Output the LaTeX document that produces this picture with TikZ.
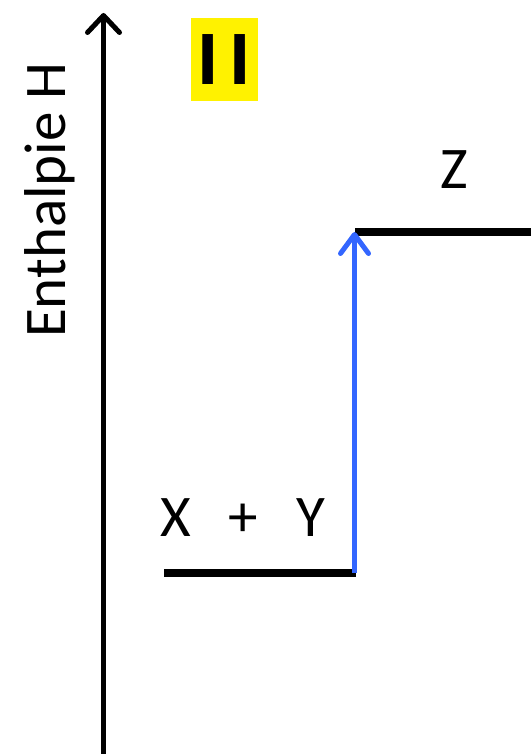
\documentclass[tikz,border=0pt]{standalone}
\usepackage{fontspec}
\setmainfont{Carlito}
\newfontfamily\badgefont{Open Sans}
\usetikzlibrary{arrows.meta}
\definecolor{arrowblue}{RGB}{51,102,255}
\tikzset{
  level/.style={line width=8pt},
  axisline/.style={line width=5pt,-{Straight Barb[length=17pt,width=32pt,line width=5pt,round]}},
  stepline/.style={line width=5pt,draw=arrowblue,-{Straight Barb[length=19pt,width=28pt,line width=5pt,round]}},
  lbl/.style={inner sep=0pt,font=\fontsize{59}{60}\selectfont},
  badge/.style={fill=yellow,minimum width=67pt,minimum height=83pt,inner sep=0pt,
    font=\badgefont\bfseries\fontsize{70}{72}\selectfont}
}
\begin{document}
\begin{tikzpicture}[x=1pt,y=-1pt]
\useasboundingbox (0,0) rectangle (530,754);
% axis
\coordinate (axb) at (103.5,756);
\coordinate (axt) at (103.5,13);
\draw[axisline] (axb) -- (axt);
\node[lbl,rotate=90,anchor=base] (ylab) at (65,200) {Enthalpie H};
% badge
\node[badge] (num) at (224.5,59.5) {\raisebox{-5pt}{I\kern9pt I}};
% levels
\coordinate (l1a) at (164,573);
\coordinate (l1b) at (356,573);
\coordinate (l2a) at (355,232);
\coordinate (l2b) at (532,232);
\draw[level] (l1a) -- (l1b);
\draw[level] (l2a) -- (l2b);
\coordinate (sb) at (354.5,573);
\coordinate (st) at (354.5,232);
\draw[stepline] (sb) -- (st);
% labels
\node[lbl,anchor=base west] (react) at (160,536) {X\hspace{38pt}+\hspace{38pt}Y};
\node[lbl,anchor=base] (prod) at (454.5,189) {Z};
\end{tikzpicture}
\end{document}
